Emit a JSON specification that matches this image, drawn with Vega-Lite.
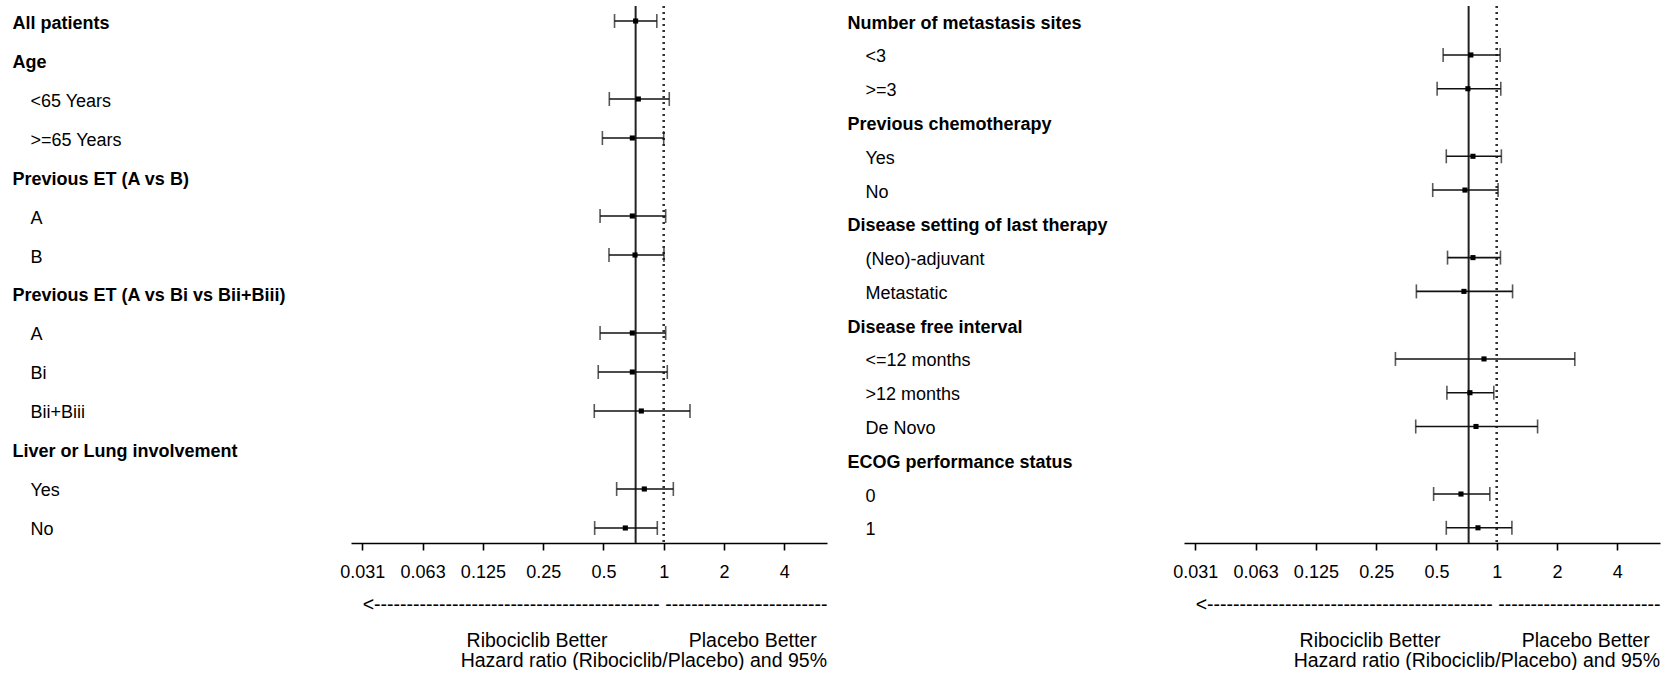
{
  "$schema": "https://vega.github.io/schema/vega-lite/v6.json",
  "background": "white",
  "padding": {"left": 12, "top": 5, "right": 5, "bottom": 0},
  "spacing": 20,
  "config": {
    "font": "Liberation Sans",
    "view": {"stroke": null},
    "title": {
      "orient": "bottom",
      "anchor": "end",
      "frame": "group",
      "fontSize": 19.5,
      "fontWeight": "normal",
      "color": "#000",
      "offset": 2
    },
    "axisX": {
      "grid": false,
      "domainColor": "#000",
      "domainWidth": 1.6,
      "tickColor": "#000",
      "tickWidth": 1.6,
      "tickSize": 7,
      "labelFontSize": 18,
      "labelColor": "#000",
      "labelPadding": 13,
      "labelFlush": false,
      "labelOverlap": false,
      "titleFontSize": 19.5,
      "titleFontWeight": "normal",
      "titleColor": "#000",
      "titleAnchor": "end",
      "titleAlign": "right",
      "titleLineHeight": 36,
      "titlePadding": 14
    },
    "axisY": {
      "title": null,
      "domain": false,
      "ticks": false,
      "grid": false,
      "labelAlign": "left",
      "labelBaseline": "middle",
      "labelOffset": 2,
      "labelFontSize": 18,
      "labelColor": "#000",
      "labelLimit": 0
    }
  },
  "data": {
    "values": [
      {"panel": "left", "item": "All patients", "hr": 0.724, "lo": 0.568, "hi": 0.924},
      {"panel": "left", "item": "Age|<65 Years", "hr": 0.747, "lo": 0.535, "hi": 1.066},
      {"panel": "left", "item": "Age|>=65 Years", "hr": 0.697, "lo": 0.494, "hi": 1.0},
      {"panel": "left", "item": "Previous ET (A vs B)|A", "hr": 0.697, "lo": 0.481, "hi": 1.023},
      {"panel": "left", "item": "Previous ET (A vs B)|B", "hr": 0.719, "lo": 0.533, "hi": 1.003},
      {"panel": "left", "item": "Previous ET (A vs Bi vs Bii+Biii)|A", "hr": 0.697, "lo": 0.481, "hi": 1.023},
      {"panel": "left", "item": "Previous ET (A vs Bi vs Bii+Biii)|Bi", "hr": 0.697, "lo": 0.471, "hi": 1.042},
      {"panel": "left", "item": "Previous ET (A vs Bi vs Bii+Biii)|Bii+Biii", "hr": 0.773, "lo": 0.45, "hi": 1.353},
      {"panel": "left", "item": "Liver or Lung involvement|Yes", "hr": 0.8, "lo": 0.582, "hi": 1.117},
      {"panel": "left", "item": "Liver or Lung involvement|No", "hr": 0.643, "lo": 0.452, "hi": 0.929},
      {"panel": "right", "item": "Number of metastasis sites|<3", "hr": 0.743, "lo": 0.54, "hi": 1.04},
      {"panel": "right", "item": "Number of metastasis sites|>=3", "hr": 0.718, "lo": 0.504, "hi": 1.048},
      {"panel": "right", "item": "Previous chemotherapy|Yes", "hr": 0.761, "lo": 0.56, "hi": 1.055},
      {"panel": "right", "item": "Previous chemotherapy|No", "hr": 0.694, "lo": 0.479, "hi": 1.016},
      {"panel": "right", "item": "Disease setting of last therapy|(Neo)-adjuvant", "hr": 0.761, "lo": 0.568, "hi": 1.044},
      {"panel": "right", "item": "Disease setting of last therapy|Metastatic", "hr": 0.686, "lo": 0.397, "hi": 1.2},
      {"panel": "right", "item": "Disease free interval|<=12 months", "hr": 0.864, "lo": 0.312, "hi": 2.455},
      {"panel": "right", "item": "Disease free interval|>12 months", "hr": 0.735, "lo": 0.564, "hi": 0.967},
      {"panel": "right", "item": "Disease free interval|De Novo", "hr": 0.788, "lo": 0.394, "hi": 1.6},
      {"panel": "right", "item": "ECOG performance status|0", "hr": 0.663, "lo": 0.484, "hi": 0.924},
      {"panel": "right", "item": "ECOG performance status|1", "hr": 0.806, "lo": 0.56, "hi": 1.191}
    ]
  },
  "hconcat": [
    {
      "width": 476,
      "height": 537,
      "title": "Hazard ratio (Ribociclib/Placebo) and 95%",
      "layer": [
        {
          "transform": [{"filter": "datum.item == 'All patients'"}],
          "mark": {"type": "rule", "color": "#222", "strokeWidth": 2},
          "encoding": {
            "x": {"field": "hr", "type": "quantitative", "scale": {"type": "log", "base": 2, "domain": [0.02743, 6.539], "nice": false, "zero": false}}
          }
        },
        {
          "mark": {"type": "rule", "color": "#333", "strokeWidth": 1.5, "strokeDash": [2, 4]},
          "encoding": {
            "x": {"datum": 1, "type": "quantitative", "scale": {"type": "log", "base": 2, "domain": [0.02743, 6.539], "nice": false, "zero": false}}
          }
        },
        {
          "transform": [{"filter": "datum.panel == 'left'"}],
          "mark": {"type": "rule", "color": "#111", "strokeWidth": 1.6},
          "encoding": {
            "x": {
              "field": "lo", "type": "quantitative",
              "scale": {"type": "log", "base": 2, "domain": [0.02743, 6.539], "nice": false, "zero": false},
              "axis": {
                "values": [0.03125, 0.0625, 0.125, 0.25, 0.5, 1, 2, 4],
                "labelExpr": "datum.value == 0.03125 ? '0.031' : datum.value == 0.0625 ? '0.063' : format(datum.value, '~g')",
                "title": [
                  "<--------------------------------------------\u00a0-------------------------",
                  "Ribociclib Better\u00a0\u00a0\u00a0\u00a0\u00a0\u00a0\u00a0\u00a0\u00a0\u00a0\u00a0\u00a0\u00a0\u00a0\u00a0Placebo Better\u00a0\u00a0\u200b"
                ]
              }
            },
            "x2": {"field": "hi"},
            "y": {
              "field": "item", "type": "nominal",
              "scale": {"type": "point", "padding": 0.385, "domain": ["All patients", "Age", "Age|<65 Years", "Age|>=65 Years", "Previous ET (A vs B)", "Previous ET (A vs B)|A", "Previous ET (A vs B)|B", "Previous ET (A vs Bi vs Bii+Biii)", "Previous ET (A vs Bi vs Bii+Biii)|A", "Previous ET (A vs Bi vs Bii+Biii)|Bi", "Previous ET (A vs Bi vs Bii+Biii)|Bii+Biii", "Liver or Lung involvement", "Liver or Lung involvement|Yes", "Liver or Lung involvement|No"]},
              "axis": {
                "labelExpr": "indexof(datum.value, '|') >= 0 ? slice(datum.value, indexof(datum.value, '|') + 1) : datum.value",
                "labelFontWeight": {"condition": {"test": "indexof(datum.value, '|') < 0", "value": "bold"}, "value": "normal"},
                "labelPadding": {"condition": {"test": "indexof(datum.value, '|') < 0", "value": 339}, "value": 321}
              }
            }
          }
        },
        {
          "transform": [{"filter": "datum.panel == 'left'"}],
          "mark": {"type": "tick", "color": "#111", "size": 14, "thickness": 1.6},
          "encoding": {
            "x": {"field": "lo", "type": "quantitative", "scale": {"type": "log", "base": 2, "domain": [0.02743, 6.539], "nice": false, "zero": false}},
            "y": {"field": "item", "type": "nominal"}
          }
        },
        {
          "transform": [{"filter": "datum.panel == 'left'"}],
          "mark": {"type": "tick", "color": "#111", "size": 14, "thickness": 1.6},
          "encoding": {
            "x": {"field": "hi", "type": "quantitative", "scale": {"type": "log", "base": 2, "domain": [0.02743, 6.539], "nice": false, "zero": false}},
            "y": {"field": "item", "type": "nominal"}
          }
        },
        {
          "transform": [{"filter": "datum.panel == 'left'"}],
          "mark": {"type": "square", "color": "#000", "size": 26, "opacity": 1},
          "encoding": {
            "x": {"field": "hr", "type": "quantitative", "scale": {"type": "log", "base": 2, "domain": [0.02743, 6.539], "nice": false, "zero": false}},
            "y": {"field": "item", "type": "nominal"}
          }
        }
      ]
    },
    {
      "width": 476,
      "height": 537,
      "title": "Hazard ratio (Ribociclib/Placebo) and 95%",
      "layer": [
        {
          "transform": [{"filter": "datum.item == 'All patients'"}],
          "mark": {"type": "rule", "color": "#222", "strokeWidth": 2},
          "encoding": {
            "x": {"field": "hr", "type": "quantitative", "scale": {"type": "log", "base": 2, "domain": [0.02743, 6.539], "nice": false, "zero": false}}
          }
        },
        {
          "mark": {"type": "rule", "color": "#333", "strokeWidth": 1.5, "strokeDash": [2, 4]},
          "encoding": {
            "x": {"datum": 1, "type": "quantitative", "scale": {"type": "log", "base": 2, "domain": [0.02743, 6.539], "nice": false, "zero": false}}
          }
        },
        {
          "transform": [{"filter": "datum.panel == 'right'"}],
          "mark": {"type": "rule", "color": "#111", "strokeWidth": 1.6},
          "encoding": {
            "x": {
              "field": "lo", "type": "quantitative",
              "scale": {"type": "log", "base": 2, "domain": [0.02743, 6.539], "nice": false, "zero": false},
              "axis": {
                "values": [0.03125, 0.0625, 0.125, 0.25, 0.5, 1, 2, 4],
                "labelExpr": "datum.value == 0.03125 ? '0.031' : datum.value == 0.0625 ? '0.063' : format(datum.value, '~g')",
                "title": [
                  "<--------------------------------------------\u00a0-------------------------",
                  "Ribociclib Better\u00a0\u00a0\u00a0\u00a0\u00a0\u00a0\u00a0\u00a0\u00a0\u00a0\u00a0\u00a0\u00a0\u00a0\u00a0Placebo Better\u00a0\u00a0\u200b"
                ]
              }
            },
            "x2": {"field": "hi"},
            "y": {
              "field": "item", "type": "nominal",
              "scale": {"type": "point", "padding": 0.45, "domain": ["Number of metastasis sites", "Number of metastasis sites|<3", "Number of metastasis sites|>=3", "Previous chemotherapy", "Previous chemotherapy|Yes", "Previous chemotherapy|No", "Disease setting of last therapy", "Disease setting of last therapy|(Neo)-adjuvant", "Disease setting of last therapy|Metastatic", "Disease free interval", "Disease free interval|<=12 months", "Disease free interval|>12 months", "Disease free interval|De Novo", "ECOG performance status", "ECOG performance status|0", "ECOG performance status|1"]},
              "axis": {
                "labelExpr": "indexof(datum.value, '|') >= 0 ? slice(datum.value, indexof(datum.value, '|') + 1) : datum.value",
                "labelFontWeight": {"condition": {"test": "indexof(datum.value, '|') < 0", "value": "bold"}, "value": "normal"},
                "labelPadding": {"condition": {"test": "indexof(datum.value, '|') < 0", "value": 337}, "value": 319}
              }
            }
          }
        },
        {
          "transform": [{"filter": "datum.panel == 'right'"}],
          "mark": {"type": "tick", "color": "#111", "size": 14, "thickness": 1.6},
          "encoding": {
            "x": {"field": "lo", "type": "quantitative", "scale": {"type": "log", "base": 2, "domain": [0.02743, 6.539], "nice": false, "zero": false}},
            "y": {"field": "item", "type": "nominal"}
          }
        },
        {
          "transform": [{"filter": "datum.panel == 'right'"}],
          "mark": {"type": "tick", "color": "#111", "size": 14, "thickness": 1.6},
          "encoding": {
            "x": {"field": "hi", "type": "quantitative", "scale": {"type": "log", "base": 2, "domain": [0.02743, 6.539], "nice": false, "zero": false}},
            "y": {"field": "item", "type": "nominal"}
          }
        },
        {
          "transform": [{"filter": "datum.panel == 'right'"}],
          "mark": {"type": "square", "color": "#000", "size": 26, "opacity": 1},
          "encoding": {
            "x": {"field": "hr", "type": "quantitative", "scale": {"type": "log", "base": 2, "domain": [0.02743, 6.539], "nice": false, "zero": false}},
            "y": {"field": "item", "type": "nominal"}
          }
        }
      ]
    }
  ]
}
